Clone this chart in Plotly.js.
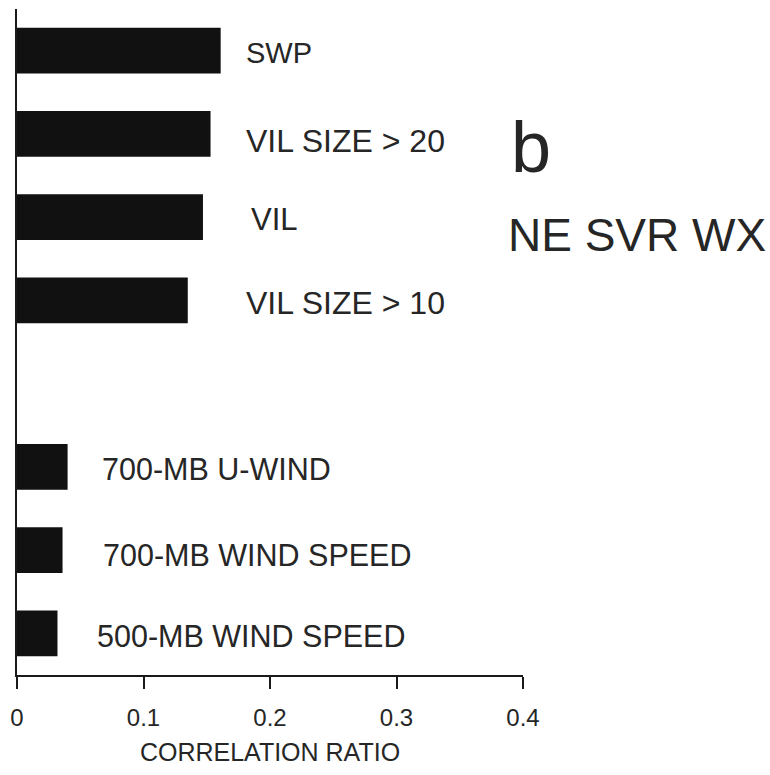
<!DOCTYPE html>
<html>
<head>
<meta charset="utf-8">
<script src="https://cdn.plot.ly/plotly-3.0.1.min.js"></script>
<style>html,body{margin:0;padding:0;background:#fff;}#chart{width:770px;height:775px;}</style>
</head>
<body>
<div id="chart"></div>
<script>
// Data (top to bottom); the blank slot is the gap between the two groups
var categories = ["SWP", "VIL SIZE > 20", "VIL", "VIL SIZE > 10", " ", "700-MB U-WIND", "700-MB WIND SPEED", "500-MB WIND SPEED"];
var values = [0.161, 0.153, 0.147, 0.135, null, 0.040, 0.036, 0.032];
var xTicks = [0, 0.1, 0.2, 0.3, 0.4];
var xTickText = ["0", "0.1", "0.2", "0.3", "0.4"];

// Label placement (styling, not data)
var labelX = [0.1795, 0.1795, 0.183, 0.1795, null, 0.0656, 0.0664, 0.0617];
var labelShift = [-2, -7, -2, -3, 0, -2, -5, -3];
var labelSize = [29, 32, 31, 32, 0, 30.5, 30.5, 30.5];

var font = "Liberation Sans, Arial, Helvetica, sans-serif";
var ink = "#1a1a1a";
var textInk = "#262626";

var annotations = [];
for (var i = 0; i < categories.length; i++) {
  if (values[i] === null) continue;
  annotations.push({
    x: labelX[i], y: categories[i], xref: "x", yref: "y",
    text: categories[i], showarrow: false, xanchor: "left", yanchor: "middle",
    yshift: labelShift[i],
    font: {family: font, size: labelSize[i], color: textInk}
  });
}
annotations.push({
  x: 1, y: 1, xref: "paper", yref: "paper", text: "b", showarrow: false,
  xanchor: "left", yanchor: "middle", xshift: -14, yshift: -138,
  font: {family: font, size: 72, color: textInk}
});
annotations.push({
  x: 1, y: 1, xref: "paper", yref: "paper", text: "NE SVR WX", showarrow: false,
  xanchor: "left", yanchor: "middle", xshift: -17, yshift: -226,
  font: {family: font, size: 46, color: textInk}
});

var trace = {
  type: "bar", orientation: "h",
  x: values, y: categories,
  width: 0.55,
  marker: {color: "#111111", line: {width: 0}},
  hoverinfo: "skip"
};

var layout = {
  width: 770, height: 775,
  margin: {l: 17, r: 247, t: 9, b: 100},
  paper_bgcolor: "#ffffff", plot_bgcolor: "#ffffff",
  showlegend: false,
  xaxis: {
    range: [0, 0.4], tickvals: xTicks, ticktext: xTickText,
    ticks: "outside", ticklen: 12, tickwidth: 2, tickcolor: ink,
    showline: true, linewidth: 2, linecolor: ink,
    showgrid: false, zeroline: false,
    tickfont: {family: font, size: 24, color: textInk},
    ticklabelstandoff: 8,
    title: {text: "CORRELATION RATIO", standoff: 14, font: {family: font, size: 25, color: textInk}}
  },
  yaxis: {
    type: "category", categoryorder: "array", categoryarray: categories,
    autorange: "reversed", showticklabels: false, ticks: "",
    showline: true, linewidth: 2, linecolor: ink,
    showgrid: false, zeroline: false
  },
  annotations: annotations
};

Plotly.newPlot("chart", [trace], layout, {displayModeBar: false, staticPlot: true});
</script>
</body>
</html>
